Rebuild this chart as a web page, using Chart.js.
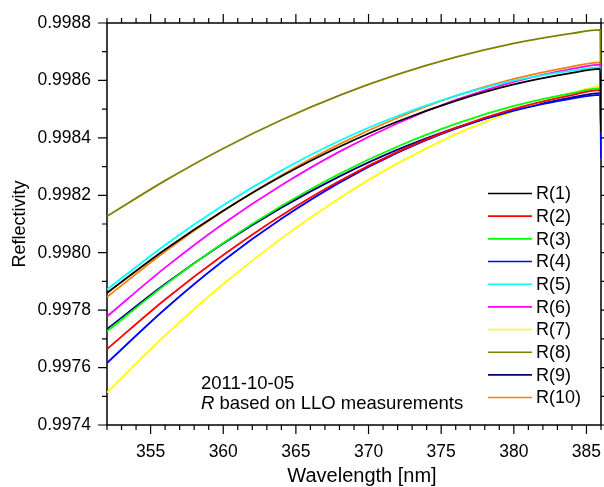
<!DOCTYPE html>
<html>
<head>
<meta charset="utf-8">
<script src="https://cdn.jsdelivr.net/npm/chart.js@4.4.0/dist/chart.umd.min.js"></script>
<style>
  html, body { margin: 0; padding: 0; background: #fff; }
</style>
</head>
<body>
<canvas id="reflChart" width="604" height="487"></canvas>
<script>
// wavelength samples (last point = drop at right edge)
const wavelengths = [352, 356, 360, 364, 368, 372, 376, 380, 384, 385.95, 386];

const r1  = [0.997860, 0.998011, 0.998146, 0.998266, 0.998369, 0.998457, 0.998529, 0.998586, 0.998626, 0.998640, 0.998420];
const r2  = [0.997664, 0.997837, 0.997992, 0.998130, 0.998250, 0.998351, 0.998435, 0.998501, 0.998549, 0.998566, 0.998420];
const r3  = [0.997726, 0.997888, 0.998034, 0.998163, 0.998275, 0.998370, 0.998449, 0.998511, 0.998556, 0.998572, 0.998420];
const r4  = [0.997616, 0.997804, 0.997972, 0.998118, 0.998244, 0.998348, 0.998432, 0.998495, 0.998537, 0.998550, 0.998330];
const r5  = [0.997872, 0.998027, 0.998165, 0.998286, 0.998390, 0.998476, 0.998546, 0.998599, 0.998634, 0.998645, 0.998420];
const r6  = [0.997778, 0.997948, 0.998101, 0.998235, 0.998352, 0.998451, 0.998532, 0.998595, 0.998640, 0.998655, 0.998420];
const r7  = [0.997513, 0.997712, 0.997891, 0.998050, 0.998190, 0.998311, 0.998412, 0.998493, 0.998556, 0.998578, 0.998420];
const r8  = [0.998127, 0.998251, 0.998363, 0.998462, 0.998548, 0.998621, 0.998681, 0.998729, 0.998764, 0.998776, 0.998450];
const r9  = [0.997734, 0.997891, 0.998032, 0.998157, 0.998266, 0.998359, 0.998435, 0.998496, 0.998541, 0.998556, 0.998420];
const r10 = [0.997846, 0.998004, 0.998145, 0.998270, 0.998378, 0.998470, 0.998546, 0.998605, 0.998648, 0.998663, 0.998410];

const seriesNames = ['R(1)', 'R(2)', 'R(3)', 'R(4)', 'R(5)', 'R(6)', 'R(7)', 'R(8)', 'R(9)', 'R(10)'];
const seriesValues = [r1, r2, r3, r4, r5, r6, r7, r8, r9, r10];
const seriesColors = ['#000000', '#FF0000', '#00FF00', '#0000FF', '#00FFFF',
                      '#FF00FF', '#FFFF00', '#808000', '#000080', '#FF8000'];

const xTicks = [355, 360, 365, 370, 375, 380, 385];
const yTicks = [0.9974, 0.9976, 0.9978, 0.9980, 0.9982, 0.9984, 0.9986, 0.9988];

const FONT = "'Liberation Sans', Arial, sans-serif";

const datasets = seriesValues.map((vals, i) => ({
    label: seriesNames[i],
    data: vals.map((v, j) => ({ x: wavelengths[j], y: v })),
    borderColor: seriesColors[i],
    backgroundColor: seriesColors[i],
    borderWidth: 1.8,
    pointRadius: 0,
    fill: false,
    cubicInterpolationMode: 'monotone'
}));

// frame and ticks under the curves, titles, legend and note on top
const decorPlugin = {
    id: 'decor',
    beforeDatasetsDraw(chart) {
        const ctx = chart.ctx;
        const a = chart.chartArea;
        const xs = chart.scales.x, ys = chart.scales.y;
        ctx.save();
        ctx.strokeStyle = '#000';
        ctx.lineWidth = 1.5;
        ctx.beginPath();
        ctx.rect(a.left, a.top, a.right - a.left, a.bottom - a.top);
        ctx.stroke();

        ctx.lineWidth = 1.2;
        ctx.beginPath();
        for (let w = 352; w <= 386; w++) {
            const px = xs.getPixelForValue(w);
            const len = (w % 5 === 0) ? 9 : 5;
            ctx.moveTo(px, a.bottom); ctx.lineTo(px, a.bottom + len);
            ctx.moveTo(px, a.top); ctx.lineTo(px, a.top - len);
        }
        for (let k = 0; k <= 14; k++) {
            const v = 0.9974 + k * 0.0001;
            const py = ys.getPixelForValue(v);
            const len = (k % 2 === 0) ? 9 : 5;
            ctx.moveTo(a.left, py); ctx.lineTo(a.left - len, py);
            ctx.moveTo(a.right, py); ctx.lineTo(a.right + len, py);
        }
        ctx.stroke();
        ctx.restore();
    },
    afterDraw(chart) {
        const ctx = chart.ctx;
        ctx.save();
        ctx.fillStyle = '#000';
        ctx.textAlign = 'center';
        ctx.textBaseline = 'middle';
        ctx.font = '20px ' + FONT;
        ctx.fillText('Wavelength [nm]', 362, 476);
        ctx.save();
        ctx.font = '18px ' + FONT;
        ctx.translate(20, 224);
        ctx.rotate(-Math.PI / 2);
        ctx.fillText('Reflectivity', 0, 0);
        ctx.restore();

        // legend
        ctx.textAlign = 'left';
        ctx.font = '18px ' + FONT;
        chart.data.datasets.forEach((ds, i) => {
            const y = 193.5 + i * 22.67;
            ctx.strokeStyle = ds.borderColor;
            ctx.lineWidth = 1.6;
            ctx.beginPath();
            ctx.moveTo(488, y); ctx.lineTo(532, y);
            ctx.stroke();
            ctx.fillText(ds.label, 536, y + 1);
        });

        // note
        ctx.font = '18.5px ' + FONT;
        ctx.fillText('2011-10-05', 201, 384);
        ctx.font = 'italic 18.5px ' + FONT;
        ctx.fillText('R', 201, 404);
        const rw = ctx.measureText('R').width;
        ctx.font = '18.5px ' + FONT;
        ctx.fillText(' based on LLO measurements', 201 + rw, 404);
        ctx.restore();
    }
};

new Chart(document.getElementById('reflChart').getContext('2d'), {
    type: 'line',
    data: { datasets: datasets },
    options: {
        responsive: false,
        animation: false,
        layout: { padding: { top: 23, right: 3, left: 0, bottom: 0 } },
        plugins: { legend: { display: false }, tooltip: { enabled: false } },
        scales: {
            x: {
                type: 'linear',
                min: 352,
                max: 386,
                afterBuildTicks: s => { s.ticks = xTicks.map(v => ({ value: v })); },
                afterFit: s => { s.height = 62; s.paddingLeft = 0; s.paddingRight = 0; },
                grid: { display: false },
                border: { display: false },
                ticks: {
                    color: '#000',
                    padding: 9,
                    maxRotation: 0,
                    font: { family: FONT, size: 17.5 }
                }
            },
            y: {
                min: 0.9974,
                max: 0.9988,
                afterBuildTicks: s => { s.ticks = yTicks.map(v => ({ value: v })); },
                afterFit: s => { s.width = 107; s.paddingTop = 0; s.paddingBottom = 0; },
                grid: { display: false },
                border: { display: false },
                ticks: {
                    color: '#000',
                    padding: 8,
                    callback: v => v.toFixed(4),
                    font: { family: FONT, size: 17.5 }
                }
            }
        }
    },
    plugins: [decorPlugin]
});
</script>
</body>
</html>
